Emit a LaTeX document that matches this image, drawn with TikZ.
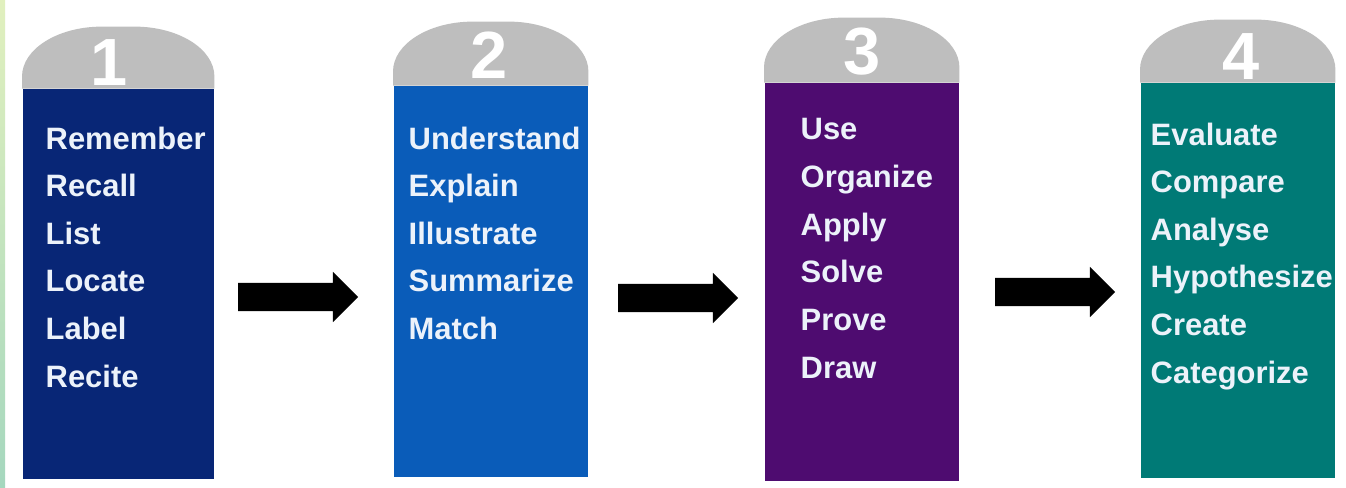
\documentclass[tikz,border=0pt]{standalone}
\usepackage{fontspec}
\setmainfont{Liberation Sans}
\usepackage{tikz}
\usetikzlibrary{positioning, shapes.arrows, calc}
\definecolor{stepnavy}{RGB}{8,38,118}
\definecolor{stepblue}{RGB}{10,92,185}
\definecolor{steppurple}{RGB}{78,12,112}
\definecolor{stepteal}{RGB}{0,122,118}
\definecolor{domegray}{RGB}{190,190,190}
\definecolor{wordwhite}{RGB}{236,242,250}

\begin{document}
\begin{tikzpicture}[
  stepbody/.style={rectangle, inner sep=0, anchor=south west, minimum width=1.93cm},
  steplist/.style={anchor=north west, inner sep=0, align=left, text=wordwhite,
    font=\fontsize{8.8}{13.55}\selectfont\bfseries},
  stepnum/.style={anchor=base, inner sep=0, text=white,
    font=\fontsize{19}{19}\selectfont\bfseries},
  bigarrow/.style={single arrow, fill=black, draw=none, inner xsep=0,
    inner ysep=0.135cm, single arrow head extend=0.11cm, minimum height=1.2cm}
]
% page
\fill[white] (0,0) rectangle (13.46,4.87);
\shade[top color={rgb,255:red,225;green,240;blue,190}, bottom color={rgb,255:red,165;green,215;blue,190}]
  (0,0) rectangle (0.05,4.87);

% step 1
\node[stepbody, fill=stepnavy, minimum width=1.91cm, minimum height=3.90cm] (b1) at (0.22,0.07) {};
\fill[domegray] (b1.north west) -- ++(0,0.12) arc[start angle=180, end angle=90, x radius=0.8, y radius=0.5]
  -- ($(b1.north east)+(-0.8,0.62)$) arc[start angle=90, end angle=0, x radius=0.8, y radius=0.5] -- (b1.north east) -- cycle;
\node[stepnum] (n1) at ($(b1.north)+(-0.09,0.03)$) {1};
\node[steplist] (l1) at (0.45,3.61) {Remember\\Recall\\List\\Locate\\Label\\Recite};

% step 2
\node[stepbody, fill=stepblue, minimum width=1.94cm, minimum height=3.91cm] (b2) at (3.93,0.09) {};
\fill[domegray] (b2.north west) -- ++(0,0.14) arc[start angle=180, end angle=90, x radius=0.8, y radius=0.5]
  -- ($(b2.north east)+(-0.8,0.64)$) arc[start angle=90, end angle=0, x radius=0.8, y radius=0.5] -- (b2.north east) -- cycle;
\node[stepnum] (n2) at ($(b2.north)+(-0.02,0.07)$) {2};
\node[steplist] (l2) at (4.08,3.61) {Understand\\Explain\\Illustrate\\Summarize\\Match};

% step 3
\node[stepbody, fill=steppurple, minimum width=1.94cm, minimum height=3.98cm] (b3) at (7.64,0.05) {};
\fill[domegray] (b3.north west) -- ++(0,0.15) arc[start angle=180, end angle=90, x radius=0.8, y radius=0.5]
  -- ($(b3.north east)+(-0.8,0.65)$) arc[start angle=90, end angle=0, x radius=0.8, y radius=0.5] -- (b3.north east) -- cycle;
\node[stepnum] (n3) at ($(b3.north)+(0,0.08)$) {3};
\node[steplist] (l3) at (8.00,3.69) {Use\\Organize\\Apply\\Solve\\Prove\\Draw};

% step 4
\node[stepbody, fill=stepteal, minimum width=1.94cm, minimum height=3.95cm] (b4) at (11.40,0.08) {};
\fill[domegray] (b4.north west) -- ++(0,0.13) arc[start angle=180, end angle=90, x radius=0.8, y radius=0.5]
  -- ($(b4.north east)+(-0.8,0.63)$) arc[start angle=90, end angle=0, x radius=0.8, y radius=0.5] -- (b4.north east) -- cycle;
\node[stepnum] (n4) at ($(b4.north)+(0.03,0.03)$) {4};
\node[steplist] (l4) at (11.50,3.65) {Evaluate\\Compare\\Analyse\\Hypothesize\\Create\\Categorize};

% arrows between steps
\node[bigarrow] (a1) at (2.91,1.90) {};
\node[bigarrow] (a2) at (6.71,1.89) {};
\node[bigarrow] (a3) at (10.48,1.95) {};
\end{tikzpicture}
\end{document}
